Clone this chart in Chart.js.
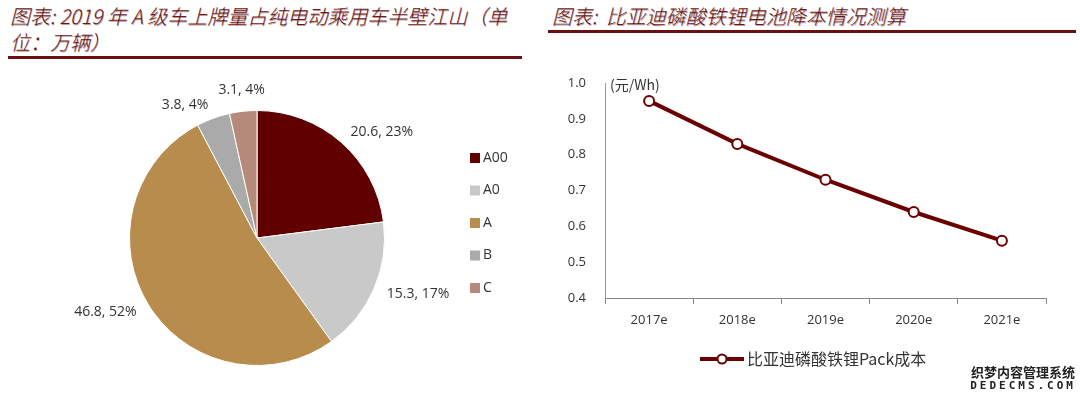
<!DOCTYPE html>
<html>
<head>
<meta charset="utf-8">
<script src="https://cdn.jsdelivr.net/npm/chart.js@4/dist/chart.umd.min.js"></script>
<style>
  html, body { margin: 0; padding: 0; background: #fff; }
  body { width: 1080px; height: 399px; position: relative; overflow: hidden; font-family: "Noto Sans CJK SC", "Noto Sans", sans-serif; }
  .title { position: absolute; color: #6a1616; font-style: italic; font-size: 20px; line-height: 26px; font-family: "Noto Sans CJK SC", sans-serif; font-weight: 300; text-shadow: 0.6px 0.6px 0 rgba(150,90,90,0.6); }
  .rule { position: absolute; height: 3px; background: #6a1010; }
  #t1 { left: 10px; top: 3px; width: 520px; }
  #t2 { left: 552px; top: 3px; width: 520px; }
  #pieBox { position: absolute; left: 0; top: 62px; width: 540px; height: 337px; }
  #lineBox { position: absolute; left: 540px; top: 62px; width: 540px; height: 337px; }
  .wm { position: absolute; right: 4px; bottom: 6px; text-align: center; font-weight: 700; color: #222; line-height: 14px; }
  .wm .a { font-size: 13px; }
  .wm .b { font-size: 11px; letter-spacing: 3px; font-family: "DejaVu Sans Mono", monospace; }
</style>
</head>
<body>
<div class="title" id="t1">图表: 2019 年 A 级车上牌量占纯电动乘用车半壁江山（单位：万辆）</div>
<div class="rule" style="left:8px; top:56px; width:514px;"></div>
<div class="title" id="t2">图表:&nbsp; 比亚迪磷酸铁锂电池降本情况测算</div>
<div class="rule" style="left:548px; top:30px; width:528px;"></div>
<div id="pieBox"><canvas id="pie"></canvas></div>
<div id="lineBox"><canvas id="line"></canvas></div>
<div class="wm"><div class="a">织梦内容管理系统</div><div class="b">DEDECMS.COM</div></div>
<script>
// pie data
const classes = ["A00", "A0", "A", "B", "C"];
const plates = [20.6, 15.3, 46.8, 3.8, 3.1];
const shares = [23, 17, 52, 4, 4];
const pieColors = ["#600000", "#c9c9c9", "#b88c4c", "#aaaaaa", "#b58a7a"];

// line data
const years = ["2017e", "2018e", "2019e", "2020e", "2021e"];
const packCost = [0.95, 0.83, 0.73, 0.64, 0.56];
const seriesName = "比亚迪磷酸铁锂Pack成本";
const lineColor = "#6b0000";

const labelFont = '14px "Open Sans", "Noto Sans", sans-serif';

// labels outside the slices + legend on the right
const pieExtras = {
  id: "pieExtras",
  afterDraw(chart) {
    const ctx = chart.ctx;
    const arcs = chart.getDatasetMeta(0).data;
    ctx.save();
    ctx.font = labelFont;
    ctx.fillStyle = "#333";
    arcs.forEach((arc, i) => {
      const p = arc.getProps(["x", "y", "startAngle", "endAngle", "outerRadius"], true);
      const mid = (p.startAngle + p.endAngle) / 2;
      const r = p.outerRadius + 14;
      const ax = p.x + Math.cos(mid) * r;
      const ay = p.y + Math.sin(mid) * r;
      const txt = plates[i] + ", " + shares[i] + "%";
      const c = Math.cos(mid);
      if (Math.abs(c) < 0.3) {
        ctx.textAlign = "center";
        ctx.textBaseline = Math.sin(mid) < 0 ? "bottom" : "top";
      } else {
        ctx.textAlign = c > 0 ? "left" : "right";
        ctx.textBaseline = "middle";
      }
      ctx.fillText(txt, ax, ay);
    });
    // legend
    const lx = 470, ly0 = 96, step = 32.5;
    ctx.textAlign = "left";
    ctx.textBaseline = "middle";
    ctx.font = '14px "Open Sans", "Noto Sans", sans-serif';
    classes.forEach((name, i) => {
      const y = ly0 + i * step;
      ctx.fillStyle = pieColors[i];
      ctx.fillRect(lx, y - 5, 10, 10);
      ctx.fillStyle = "#333";
      ctx.fillText(name, lx + 13, y);
    });
    ctx.restore();
  }
};

new Chart(document.getElementById("pie"), {
  type: "pie",
  data: {
    labels: classes,
    datasets: [{
      data: plates,
      backgroundColor: pieColors,
      borderColor: "#fff",
      borderWidth: 1
    }]
  },
  options: {
    responsive: true,
    maintainAspectRatio: false,
    animation: false,
    layout: { padding: { left: 129, right: 155, top: 48, bottom: 33 } },
    plugins: { legend: { display: false }, tooltip: { enabled: false } }
  },
  plugins: [pieExtras]
});

// unit label and bottom legend for the line chart
const lineExtras = {
  id: "lineExtras",
  afterDraw(chart) {
    const ctx = chart.ctx;
    const a = chart.chartArea;
    ctx.save();
    ctx.font = '14px "Noto Sans CJK SC", sans-serif';
    ctx.fillStyle = "#333";
    ctx.textAlign = "left";
    ctx.textBaseline = "middle";
    ctx.fillText("(元/Wh)", a.left + 5, a.top + 2);
    // legend
    const cy = 297;
    const x0 = 160;
    ctx.strokeStyle = lineColor;
    ctx.lineWidth = 4;
    ctx.beginPath();
    ctx.moveTo(x0, cy);
    ctx.lineTo(x0 + 44, cy);
    ctx.stroke();
    ctx.beginPath();
    ctx.arc(x0 + 22, cy, 4.5, 0, Math.PI * 2);
    ctx.fillStyle = "#fff";
    ctx.fill();
    ctx.lineWidth = 2;
    ctx.stroke();
    ctx.font = '16px "Noto Sans CJK SC", sans-serif';
    ctx.fillStyle = "#333";
    ctx.fillText(seriesName, x0 + 47, cy);
    ctx.restore();
  }
};

new Chart(document.getElementById("line"), {
  type: "line",
  data: {
    labels: years,
    datasets: [{
      label: seriesName,
      data: packCost,
      borderColor: lineColor,
      borderWidth: 4,
      pointRadius: 5,
      pointBorderWidth: 2,
      pointBackgroundColor: "#fff",
      pointBorderColor: lineColor,
      tension: 0
    }]
  },
  options: {
    responsive: true,
    maintainAspectRatio: false,
    animation: false,
    layout: { padding: { left: 0, right: 34, top: 21, bottom: 0 } },
    plugins: { legend: { display: false }, tooltip: { enabled: false } },
    scales: {
      x: {
        offset: true,
        grid: { drawOnChartArea: false, drawTicks: true, tickLength: 6, color: "#888", offset: true },
        border: { display: true, color: "#888" },
        ticks: { color: "#333", padding: 8, font: { size: 13, family: "'Open Sans', 'Noto Sans', sans-serif" } },
        afterFit(s) { s.height = 101; }
      },
      y: {
        min: 0.4,
        max: 1.0,
        grid: { drawOnChartArea: false, drawTicks: false },
        border: { display: true, color: "#999" },
        ticks: {
          stepSize: 0.1,
          color: "#333",
          padding: 19,
          font: { size: 13, family: "'Open Sans', 'Noto Sans', sans-serif" },
          callback: v => Number(v).toFixed(1)
        },
        afterFit(s) { s.width = 65; s.paddingTop = 0; s.paddingBottom = 0; }
      }
    }
  },
  plugins: [lineExtras]
});
</script>
</body>
</html>
